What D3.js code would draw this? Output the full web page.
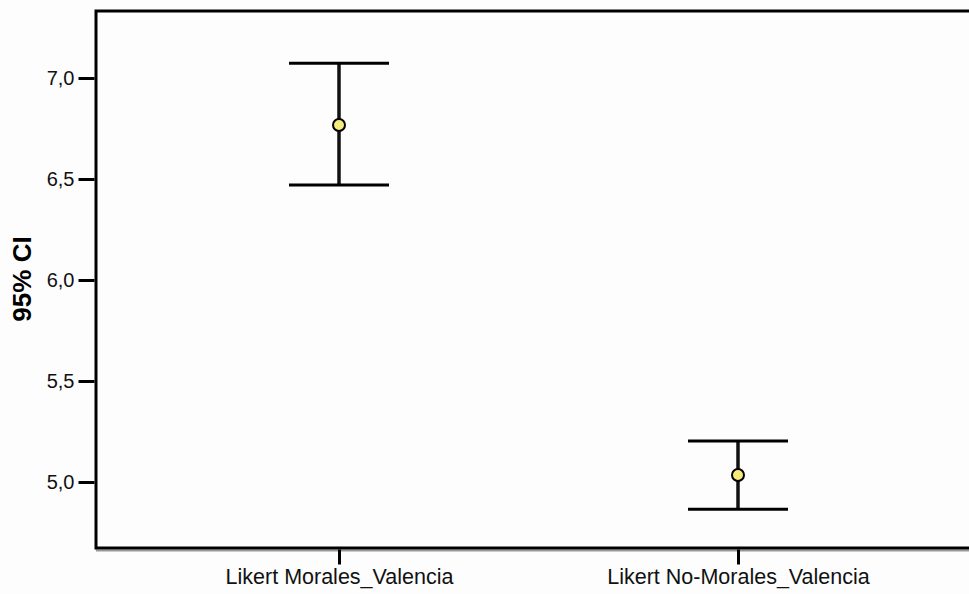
<!DOCTYPE html>
<html><head><meta charset="utf-8">
<script src="https://cdn.jsdelivr.net/npm/d3@7"></script>
<style>body{margin:0;background:#fdfdfd;}svg{display:block;}</style>
</head><body>
<svg id="c" width="969" height="594"></svg>
<script>
const categories = ["Likert Morales_Valencia", "Likert No-Morales_Valencia"];
const means = [6.767, 5.035];
const lower = [6.47, 4.865];
const upper = [7.073, 5.203];
const yTicks = [5.0, 5.5, 6.0, 6.5, 7.0];
const yTitle = "95% CI";

(function () {
const svg = d3.select("#c");
const pLeft = 96, pRight = 990, pTop = 11, pBottom = 548;
const y = d3.scaleLinear().domain([5.0, 7.0]).range([482, 78]);
const x = d3.scalePoint().domain(categories).range([339, 738]);
const fmt = d => d3.format(".1f")(d).replace(".", ",");

svg.append("rect").attr("x", 0).attr("y", 0).attr("width", 969).attr("height", 594).attr("fill", "#fdfdfd");

// frame
svg.append("line").attr("x1", pLeft).attr("x2", pRight).attr("y1", pBottom + 2.5).attr("y2", pBottom + 2.5)
  .attr("stroke", "#999").attr("stroke-width", 2);
svg.append("path").attr("d", `M${pRight},${pTop}H${pLeft}V${pBottom}H${pRight}`)
  .attr("fill", "none").attr("stroke", "#000").attr("stroke-width", 3);

// y axis
const ya = svg.append("g").attr("transform", `translate(${pLeft - 1.5},0)`)
  .call(d3.axisLeft(y).tickValues(yTicks).tickFormat(fmt).tickSize(16).tickPadding(4));
ya.select(".domain").remove();
ya.selectAll(".tick line").attr("stroke", "#000").attr("stroke-width", 3);
ya.selectAll(".tick text").attr("font-family", "Liberation Sans, Arial, sans-serif").attr("font-size", 20).attr("fill", "#111");

// x axis
const xa = svg.append("g").attr("transform", `translate(0,${pBottom + 1.5})`)
  .call(d3.axisBottom(x).tickSize(15).tickPadding(4));
xa.select(".domain").remove();
xa.selectAll(".tick line").attr("stroke", "#000").attr("stroke-width", 3);
xa.selectAll(".tick text").attr("font-family", "Liberation Sans, Arial, sans-serif").attr("font-size", 21.5).attr("fill", "#111");

svg.append("text").attr("transform", "translate(31,279) rotate(-90)")
  .attr("text-anchor", "middle").attr("font-family", "Liberation Sans, Arial, sans-serif")
  .attr("font-weight", "bold").attr("font-size", 26).attr("fill", "#000").text(yTitle);

// error bars
const g = svg.append("g");
categories.forEach((c, i) => {
  const cx = x(c);
  g.append("line").attr("x1", cx).attr("x2", cx).attr("y1", y(upper[i])).attr("y2", y(lower[i]))
    .attr("stroke", "#111").attr("stroke-width", 3.5);
  [upper[i], lower[i]].forEach(v => {
    g.append("line").attr("x1", cx - 50).attr("x2", cx + 50).attr("y1", y(v)).attr("y2", y(v))
      .attr("stroke", "#000").attr("stroke-width", 3);
  });
  g.append("circle").attr("cx", cx).attr("cy", y(means[i])).attr("r", 6)
    .attr("fill", "#f5ea7a").attr("stroke", "#000").attr("stroke-width", 2);
});
})();
</script>
</body></html>
